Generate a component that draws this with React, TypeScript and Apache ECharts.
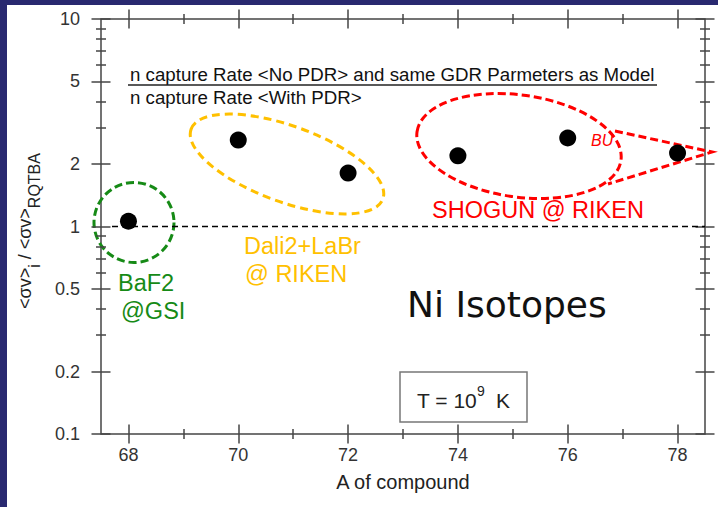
import React, { useEffect, useRef } from 'react';
import * as echarts from 'echarts';

// ---- data ----
const masses = [68, 70, 72, 74, 76, 78];
const ratios = [1.06, 2.61, 1.81, 2.19, 2.67, 2.26];
const xTickLabels = [68, 70, 72, 74, 76, 78];
const xMinorTicks = [69, 71, 73, 75, 77];
const yTickLabels = [0.1, 0.2, 0.5, 1, 2, 5, 10];
const yMinorTicks = [0.3, 0.4, 0.6, 0.7, 0.8, 0.9, 3, 4, 6, 7, 8, 9];
const refLevel = 1;
const refStart = 67.7;

const X_MIN = 67.5;
const X_MAX = 78.5;
const Y_MIN = 0.1;
const Y_MAX = 10;

const FONT = "'Liberation Sans', Arial, Helvetica, sans-serif";
const AXIS_COLOR = '#454545';
const GREEN = '#168a16';
const GOLD = '#ffc000';
const RED = '#ff0000';

const tickStyle = { color: AXIS_COLOR, width: 1.5 };

function xTickAxis(position: string, offset: number, values: number[], length: number) {
  return {
    type: 'value', position, offset, min: X_MIN, max: X_MAX,
    axisLine: { show: false }, splitLine: { show: false }, axisLabel: { show: false },
    axisTick: { show: true, customValues: values, length, inside: false, lineStyle: tickStyle },
  };
}
function yTickAxis(position: string, offset: number, values: number[], length: number) {
  return {
    type: 'log', logBase: 10, position, offset, min: Y_MIN, max: Y_MAX,
    axisLine: { show: false }, splitLine: { show: false }, axisLabel: { show: false },
    axisTick: { show: true, customValues: values, length, inside: false, lineStyle: tickStyle },
  };
}

const fmt = (v: number) => String(+Number(v).toPrecision(6));

export default function App() {
  const ref = useRef<HTMLDivElement>(null);
  useEffect(() => {
    if (!ref.current) return;
    const chart = echarts.init(ref.current, null, { renderer: 'svg' });
    const option: any = {
      animation: false,
      backgroundColor: '#ffffff',
      textStyle: { fontFamily: FONT },
      grid: {
        left: 94, top: 14, width: 604, height: 415,
        show: true, borderColor: AXIS_COLOR, borderWidth: 1.5, backgroundColor: 'transparent',
      },
      xAxis: [
        {
          type: 'value', position: 'bottom', min: X_MIN, max: X_MAX,
          axisLine: { show: false }, axisTick: { show: false }, splitLine: { show: false },
          axisLabel: {
            show: true, customValues: xTickLabels, margin: 12, fontSize: 18, color: '#333',
            fontFamily: FONT, formatter: fmt,
          },
          name: 'A of compound', nameLocation: 'middle', nameGap: 38,
          nameTextStyle: { fontSize: 20, color: '#222', fontFamily: FONT },
        },
        xTickAxis('bottom', -9.5, xTickLabels, 19),
        xTickAxis('bottom', -5, xMinorTicks, 10),
        xTickAxis('top', -9.5, xTickLabels, 19),
        xTickAxis('top', -5, xMinorTicks, 10),
      ],
      yAxis: [
        {
          type: 'log', logBase: 10, position: 'left', min: Y_MIN, max: Y_MAX,
          axisLine: { show: false }, axisTick: { show: false }, splitLine: { show: false },
          axisLabel: {
            show: true, customValues: yTickLabels, margin: 21, fontSize: 18, color: '#333',
            fontFamily: FONT, formatter: fmt,
          },
        },
        yTickAxis('left', -9.5, yTickLabels, 19),
        yTickAxis('left', -5, yMinorTicks, 10),
        yTickAxis('right', -9.5, yTickLabels, 19),
        yTickAxis('right', -5, yMinorTicks, 10),
      ],
      series: [
        {
          type: 'line', xAxisIndex: 0, yAxisIndex: 0, silent: true, symbol: 'none', z: 3,
          data: [[refStart, refLevel], [X_MAX, refLevel]],
          lineStyle: { color: '#000', width: 1.5, type: [6, 4] },
        },
        {
          type: 'scatter', xAxisIndex: 0, yAxisIndex: 0, symbolSize: 17, z: 6,
          itemStyle: { color: '#000', opacity: 1 },
          data: masses.map((m, i) => [m, ratios[i]]),
        },
      ],
      graphic: [
        // y-axis title
        {
          type: 'text', x: 22.5, y: 226, rotation: Math.PI / 2,
          style: {
            text: '{m|<σv>}{s|i}{m| / <σv>}{s|RQTBA}',
            align: 'center', verticalAlign: 'middle', fill: '#222', fontFamily: FONT,
            rich: {
              m: { fontSize: 18, fill: '#222', fontFamily: FONT, padding: [0, 0, 10, 0] },
              s: { fontSize: 16, fill: '#222', fontFamily: FONT, padding: [10, 0, 0, 0] },
            },
          },
        },
        // formula
        {
          type: 'text', x: 123, y: 69,
          style: { text: 'n capture Rate <No PDR> and same GDR Parmeters as Model', fontSize: 18.7, fontFamily: FONT, fill: '#111', verticalAlign: 'middle' },
        },
        { type: 'line', shape: { x1: 121, y1: 80, x2: 650, y2: 80 }, style: { stroke: '#222', lineWidth: 1.5 } },
        {
          type: 'text', x: 123, y: 92,
          style: { text: 'n capture Rate <With PDR>', fontSize: 18.7, fontFamily: FONT, fill: '#111', verticalAlign: 'middle' },
        },
        // green circle
        {
          type: 'circle', shape: { cx: 127, cy: 217.5, r: 40 },
          style: { fill: 'none', stroke: GREEN, lineWidth: 3, lineDash: [8, 4] },
        },
        { type: 'text', x: 111, y: 278, style: { text: 'BaF2', fontSize: 23.5, fontFamily: FONT, fill: GREEN, verticalAlign: 'middle' } },
        { type: 'text', x: 114, y: 306, style: { text: '@GSI', fontSize: 23.5, fontFamily: FONT, fill: GREEN, verticalAlign: 'middle' } },
        // gold ellipse
        {
          type: 'ellipse', x: 280, y: 159, rotation: -20 * Math.PI / 180,
          shape: { cx: 0, cy: 0, rx: 102, ry: 38 },
          style: { fill: 'none', stroke: GOLD, lineWidth: 3, lineDash: [8, 5] },
        },
        { type: 'text', x: 237, y: 241, style: { text: 'Dali2+LaBr', fontSize: 23.5, fontFamily: FONT, fill: GOLD, verticalAlign: 'middle' } },
        { type: 'text', x: 238, y: 269, style: { text: '@ RIKEN', fontSize: 23.5, fontFamily: FONT, fill: GOLD, verticalAlign: 'middle' } },
        // red ellipse + wedge
        {
          type: 'ellipse', x: 512, y: 141, rotation: -8 * Math.PI / 180,
          shape: { cx: 0, cy: 0, rx: 103, ry: 51 },
          style: { fill: 'none', stroke: RED, lineWidth: 3, lineDash: [8, 4] },
        },
        {
          type: 'polyline', shape: { points: [[608, 126], [705, 147], [601, 179]] },
          style: { fill: 'none', stroke: RED, lineWidth: 3, lineDash: [8, 4] },
        },
        { type: 'text', x: 584, y: 135, style: { text: 'BU', fontSize: 16, fontStyle: 'italic', fontFamily: FONT, fill: RED, verticalAlign: 'middle' } },
        { type: 'text', x: 425, y: 205, style: { text: 'SHOGUN @ RIKEN', fontSize: 23.5, fontFamily: FONT, fill: RED, verticalAlign: 'middle' } },
        // Ni Isotopes
        { type: 'text', x: 400, y: 299, style: { text: 'Ni Isotopes', fontSize: 36, fontFamily: "'Comic Sans MS', 'DejaVu Sans', sans-serif", fill: '#111', verticalAlign: 'middle' } },
        // temperature box
        {
          type: 'rect', shape: { x: 393, y: 367, width: 127, height: 50 },
          style: { fill: '#fff', stroke: '#777', lineWidth: 1.5 },
        },
        { type: 'text', x: 410, y: 395, style: { text: 'T = 10', fontSize: 21, fontFamily: FONT, fill: '#222', verticalAlign: 'middle' } },
        { type: 'text', x: 470, y: 386, style: { text: '9', fontSize: 14, fontFamily: FONT, fill: '#222', verticalAlign: 'middle' } },
        { type: 'text', x: 489, y: 395, style: { text: 'K', fontSize: 21, fontFamily: FONT, fill: '#222', verticalAlign: 'middle' } },
      ],
    };
    chart.setOption(option);
    return () => chart.dispose();
  }, []);

  return (
    <div style={{ position: 'fixed', left: 0, top: 0, width: 718, height: 507, background: '#292970' }}>
      <div ref={ref} style={{ position: 'absolute', left: 7, top: 5, width: 711, height: 502, background: '#fff' }} />
    </div>
  );
}
